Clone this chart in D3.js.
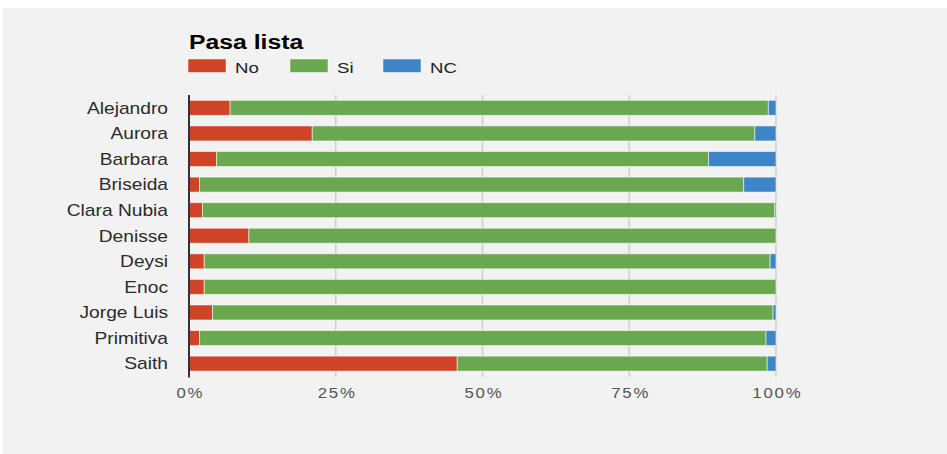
<!DOCTYPE html>
<html>
<head>
<meta charset="utf-8">
<script src="https://cdn.jsdelivr.net/npm/d3@7/dist/d3.min.js"></script>
<style>
  html, body { margin: 0; padding: 0; background: #ffffff; }
  svg { display: block; font-family: "Liberation Sans", Arial, sans-serif; }
</style>
</head>
<body>
<svg id="chart" width="947" height="454"></svg>
<script>
// Attendance ("Pasa lista") per student, shares of No / Si / NC
const students = ["Alejandro", "Aurora", "Barbara", "Briseida", "Clara Nubia", "Denisse",
                  "Deysi", "Enoc", "Jorge Luis", "Primitiva", "Saith"];
const seriesNames = ["No", "Si", "NC"];
const noValues = [7.0, 21.0, 4.7, 1.8, 2.3, 10.2, 2.6, 2.6, 4.0, 1.8, 45.7];
const siValues = [91.7, 75.4, 83.8, 92.7, 97.5, 89.8, 96.4, 97.4, 95.5, 96.5, 52.8];
const ncValues = [1.3, 3.6, 11.5, 5.5, 0.2, 0.0, 1.0, 0.0, 0.5, 1.7, 1.5];
const tickValues = [0, 0.25, 0.5, 0.75, 1];
const colors = ["#cf4326", "#6aa84f", "#3d85c6"];

// all text is drawn slightly widened horizontally
const WIDEN = 1.2;

const rows = students.map((name, i) => ({
  name, No: noValues[i], Si: siValues[i], NC: ncValues[i]
}));

const svg = d3.select("#chart");

// panel background
svg.append("rect")
  .attr("x", 3).attr("y", 8)
  .attr("width", 944).attr("height", 446)
  .attr("fill", "#f2f2f2");

const x = d3.scaleLinear().domain([0, 1]).range([189, 776]);
const y = d3.scaleBand().domain(students)
  .range([95, 376.5]).paddingInner(0.414).paddingOuter(0.21);
const color = d3.scaleOrdinal().domain(seriesNames).range(colors);

// gridlines
svg.append("g")
  .selectAll("line")
  .data(tickValues.slice(1))
  .join("line")
  .attr("x1", d => x(d)).attr("x2", d => x(d))
  .attr("y1", 95).attr("y2", 377)
  .attr("stroke", "#cfcfcf")
  .attr("stroke-width", 1.6);

// stacked, normalised bars
const stacked = d3.stack().keys(seriesNames).offset(d3.stackOffsetExpand)(rows);

svg.append("g")
  .selectAll("g")
  .data(stacked)
  .join("g")
  .attr("fill", d => color(d.key))
  .selectAll("rect")
  .data(d => d.filter(s => s[1] - s[0] > 0))
  .join("rect")
  .attr("x", d => x(d[0]))
  .attr("y", d => y(d.data.name))
  .attr("width", d => Math.max(0, x(d[1]) - x(d[0])))
  .attr("height", y.bandwidth())
  .attr("stroke", "#ffffff")
  .attr("stroke-opacity", 0.55)
  .attr("stroke-width", 1);

// baseline axis line
svg.append("line")
  .attr("x1", x(0)).attr("x2", x(0))
  .attr("y1", 95).attr("y2", 377.5)
  .attr("stroke", "#333333")
  .attr("stroke-width", 2);

// category labels
const yAxis = d3.axisLeft(y).tickSize(0).tickPadding(0);
const yg = svg.append("g")
  .attr("transform", "translate(168,0)")
  .call(yAxis);
yg.select(".domain").remove();
yg.selectAll("text")
  .attr("x", 0)
  .attr("font-size", 16)
  .attr("fill", "#2b2b2b")
  .attr("font-family", "Liberation Sans, Arial, sans-serif")
  .attr("dy", "0.36em")
  .attr("transform", `scale(${WIDEN},1)`);

// percentage tick labels
const xAxis = d3.axisBottom(x).tickValues(tickValues).tickFormat(d3.format(".0%")).tickSize(0).tickPadding(0);
const xg = svg.append("g")
  .attr("transform", "translate(0,398)")
  .call(xAxis);
xg.select(".domain").remove();
xg.selectAll("text")
  .attr("y", 0)
  .attr("dy", 0)
  .attr("dx", "0.75px")
  .attr("font-size", 14)
  .attr("letter-spacing", "1.5px")
  .attr("fill", "#555555")
  .attr("font-family", "Liberation Sans, Arial, sans-serif")
  .attr("transform", `scale(${WIDEN},1)`);

// title
svg.append("text")
  .attr("transform", "translate(189,48.5) scale(1.18,1)")
  .attr("font-size", 21)
  .attr("font-weight", "bold")
  .attr("fill", "#000000")
  .text("Pasa lista");

// legend
const legendX = [188, 290, 383];
const legend = svg.append("g")
  .selectAll("g")
  .data(seriesNames)
  .join("g")
  .attr("transform", (d, i) => `translate(${legendX[i]},59)`);
legend.append("rect")
  .attr("width", 38).attr("height", 13.5)
  .attr("fill", d => color(d))
  .attr("stroke", "#ffffff")
  .attr("stroke-opacity", 0.5)
  .attr("stroke-width", 1);
legend.append("text")
  .attr("transform", `translate(47,13.5) scale(${WIDEN},1)`)
  .attr("font-size", 15.5)
  .attr("fill", "#222222")
  .text(d => d);
</script>
</body>
</html>
